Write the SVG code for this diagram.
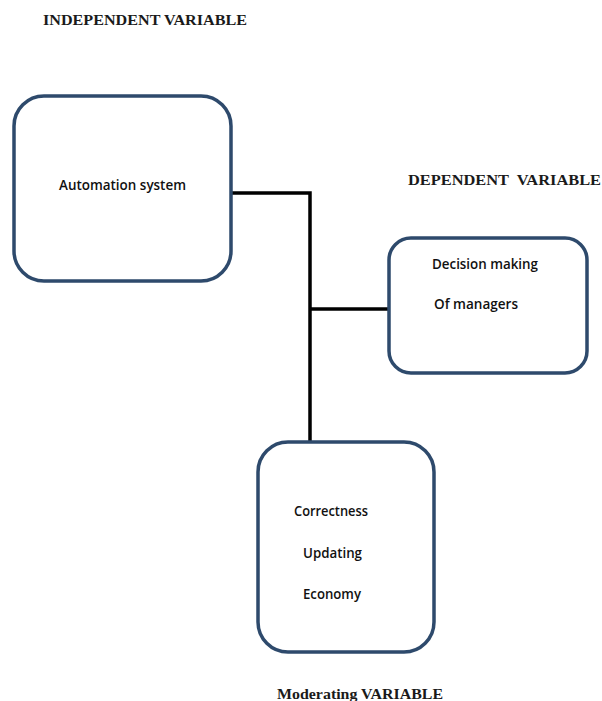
<svg xmlns="http://www.w3.org/2000/svg" width="602" height="701" viewBox="0 0 602 701">
<style>
.box{fill:#fff;stroke:#2e4a6c;stroke-width:3.5}
.lbl{font-family:"Liberation Serif",serif;font-weight:bold;font-size:14.5px;fill:#1a1a1a}
.t{font-family:"Open Sans","Liberation Sans",sans-serif;font-size:14.5px;font-weight:600;fill:#111}
.con{fill:none;stroke:#000;stroke-width:3.5}
</style>
<rect width="602" height="701" fill="#fff"/>
<text class="lbl" x="43" y="25" textLength="204" lengthAdjust="spacingAndGlyphs">INDEPENDENT VARIABLE</text>
<text class="lbl" x="408" y="185" textLength="193" lengthAdjust="spacingAndGlyphs" xml:space="preserve">DEPENDENT  VARIABLE</text>
<text class="lbl" x="277" y="699" textLength="166" lengthAdjust="spacingAndGlyphs">Moderating VARIABLE</text>
<g id="connectors">
<polyline class="con" points="231,193 310,193 310,441"/>
<line class="con" x1="310" y1="309" x2="390" y2="309"/>
</g>
<g id="independent">
<rect class="box" x="14" y="96" width="217" height="185" rx="30"/>
<text class="t" x="59" y="190" textLength="127" lengthAdjust="spacingAndGlyphs">Automation system</text>
</g>
<g id="dependent">
<rect class="box" x="389" y="238" width="198" height="135" rx="22"/>
<text class="t" x="432" y="269" textLength="106" lengthAdjust="spacingAndGlyphs">Decision making</text>
<text class="t" x="434" y="309" textLength="84" lengthAdjust="spacingAndGlyphs">Of managers</text>
</g>
<g id="moderating">
<rect class="box" x="258" y="442" width="176" height="210" rx="30"/>
<text class="t" x="294" y="516" textLength="74" lengthAdjust="spacingAndGlyphs">Correctness</text>
<text class="t" x="303" y="558" textLength="59" lengthAdjust="spacingAndGlyphs">Updating</text>
<text class="t" x="303" y="599" textLength="58" lengthAdjust="spacingAndGlyphs">Economy</text>
</g>
</svg>
